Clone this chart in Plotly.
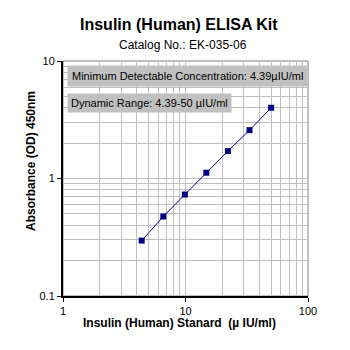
import plotly.graph_objects as go

conc = [4.39, 6.59, 9.88, 14.8, 22.2, 33.3, 50.0]
od = [0.296, 0.475, 0.73, 1.12, 1.71, 2.58, 4.0]

title = "<b>Insulin (Human) ELISA Kit</b>"
subtitle = "Catalog No.: EK-035-06"
xlab = "<b>Insulin (Human) Stanard  (µ IU/ml)</b>"
ylab = "<b>Absorbance (OD) 450nm</b>"
note1 = "Minimum Detectable Concentration: 4.39µIU/ml"
note2 = "Dynamic Range: 4.39-50 µIU/ml"
xticks = [1, 10, 100]
yticks = [0.1, 1, 10]

FONT = "Liberation Sans, Arial, sans-serif"
NAVY = "#000080"
GRID = "#c0c0c0"

fig = go.Figure()
fig.add_trace(go.Scatter(
    x=conc, y=od, mode="lines+markers",
    line=dict(color=NAVY, width=1),
    marker=dict(color=NAVY, symbol="square", size=6),
    showlegend=False,
))

axis_common = dict(
    type="log", showgrid=True, gridcolor=GRID, gridwidth=1,
    ticks="outside", ticklen=4, tickcolor="black", tickwidth=1,
    tickfont=dict(family=FONT, size=11, color="black"),
    showline=True, linecolor="black", linewidth=2,
    mirror=False, zeroline=False,
    minor=dict(showgrid=True, gridcolor=GRID, gridwidth=1, dtick="D1", ticks=""),
)

fig.update_xaxes(range=[0, 2], tickvals=xticks, ticktext=[str(v) for v in xticks],
                 **axis_common)
fig.update_yaxes(range=[-1, 1], tickvals=yticks, ticktext=["0.1", "1", "10"],
                 **axis_common)

# right and top border (gray)
fig.add_shape(type="rect", xref="paper", yref="paper", x0=0, x1=1, y0=0, y1=1,
              line=dict(color="#808080", width=1), layer="below")

fig.add_annotation(text=title, xref="paper", yref="paper", x=0.475, y=1.155,
                   xanchor="center", yanchor="middle", showarrow=False,
                   font=dict(family=FONT, size=16, color="black"))
fig.add_annotation(text=subtitle, xref="paper", yref="paper", x=0.49, y=1.066,
                   xanchor="center", yanchor="middle", showarrow=False,
                   font=dict(family=FONT, size=12, color="black"))
fig.add_annotation(text=xlab, xref="paper", yref="paper", x=0.475, y=-0.115,
                   xanchor="center", yanchor="middle", showarrow=False,
                   font=dict(family=FONT, size=12, color="black"))
fig.add_annotation(text=ylab, xref="paper", yref="paper", x=-0.131, y=0.574,
                   xanchor="center", yanchor="middle", showarrow=False, textangle=-90,
                   font=dict(family=FONT, size=12, color="black"))
fig.add_annotation(text=note1, xref="paper", yref="paper", x=0.016, y=0.983,
                   xanchor="left", yanchor="top", showarrow=False,
                   bgcolor="#c0c0c0", borderpad=4,
                   font=dict(family=FONT, size=11, color="black"))
fig.add_annotation(text=note2, xref="paper", yref="paper", x=0.016, y=0.864,
                   xanchor="left", yanchor="top", showarrow=False,
                   bgcolor="#c0c0c0", borderpad=3,
                   font=dict(family=FONT, size=11, color="black"))

fig.update_layout(
    width=350, height=350,
    margin=dict(l=63, r=42, t=61, b=54),
    paper_bgcolor="white", plot_bgcolor="white",
    font=dict(family=FONT, size=11, color="black"),
)

fig.write_html("out.html")
